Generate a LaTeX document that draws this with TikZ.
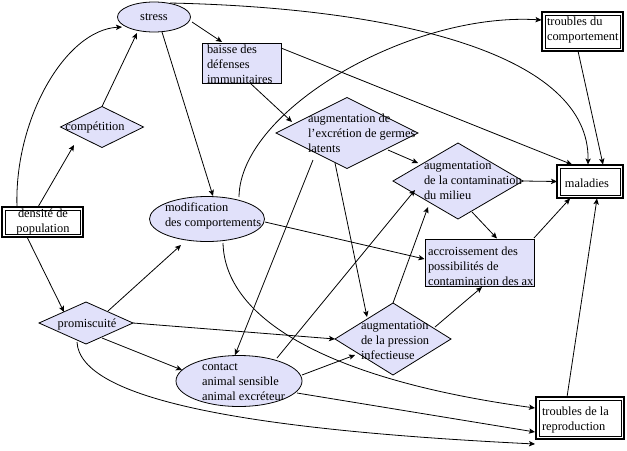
\documentclass[tikz,border=0pt]{standalone}
\usepackage{fontspec}
\setmainfont{Liberation Serif}
\usetikzlibrary{shapes.geometric,arrows.meta,calc}
\definecolor{fillc}{RGB}{225,225,250}
\begin{document}
\begin{tikzpicture}[x=0.75pt,y=-0.75pt,
  every node/.style={outer sep=0pt, inner sep=0pt},
  shp/.style={draw, fill=fillc, line width=0.6pt},
  ell/.style={shp, ellipse},
  dia/.style={shp, diamond},
  box/.style={shp, rectangle},
  dbox/.style={draw, line width=1.1pt, fill=white, rectangle},
  inner/.style={draw, line width=0.6pt},
  txt/.style={font=\fontsize{9.3pt}{11.25pt}\selectfont, align=left, anchor=west},
  ctxt/.style={font=\fontsize{9.3pt}{11.25pt}\selectfont, align=center},
  con/.style={line width=0.6pt},
  arr/.style={line width=0.6pt, -{Stealth[length=4.5pt,width=4pt,inset=1pt]}}]
\useasboundingbox (0,0) rectangle (627,450);
% shapes
\node[ell, minimum width=54.75pt, minimum height=22.5pt] (stress) at (154,17) {};
\node[box, minimum width=59.25pt, minimum height=30pt] (baisse) at (241.5,63) {};
\node[dia, minimum width=62.25pt, minimum height=30.75pt] (comp) at (102,127) {};
\node[dbox, minimum width=60.75pt, minimum height=22.5pt] (dens) at (42.5,222) {};
\node[ell, minimum width=86.25pt, minimum height=33.75pt] (modif) at (207,219) {};
\node[dia, minimum width=106.5pt, minimum height=53.25pt] (excr) at (347,133) {};
\node[dia, minimum width=97.5pt, minimum height=57pt] (contam) at (458,181) {};
\node[dbox, minimum width=49.5pt, minimum height=24.75pt] (mal) at (590,181.5) {};
\node[dbox, minimum width=60.75pt, minimum height=29.25pt] (tc) at (582.5,31.5) {};
\node[box, minimum width=81.75pt, minimum height=35.25pt] (accr) at (479.5,262.5) {};
\node[dia, minimum width=70.5pt, minimum height=31.5pt] (prom) at (86,323) {};
\node[ell, minimum width=94.5pt, minimum height=38.25pt] (contact) at (239,381) {};
\node[dia, minimum width=87pt, minimum height=54pt] (press) at (393,339) {};
\node[dbox, minimum width=66pt, minimum height=31.5pt] (repro) at (580,418) {};
\foreach \n in {dens,mal,tc,repro}
  \draw[inner] ($(\n.north west)+(3,3)$) rectangle ($(\n.south east)+(-3,-3)$);
% connectors
\draw[arr] ($(dens)+(-25.5,-15)$) .. controls (14,120) and (65,30) .. ($(stress)+(-32,10)$);
\draw[arr] ($(dens)+(-4.5,-15)$) -- ($(comp)+(-28,18)$);
\draw[arr] (comp.north) -- ($(stress)+(-17,16)$);
\draw[arr] ($(stress)+(38,5)$) -- ($(baisse)+(-19.5,-21)$);
\draw[arr] ($(stress)+(8,15)$) -- ($(modif)+(6,-23)$);
\draw[arr] ($(stress)+(16,-14)$) .. controls (400,8) and (590,55) .. ($(mal)+(-2,-17)$);
\draw[arr] ($(baisse)+(39.5,-15)$) -- ($(mal)+(-18,-17)$);
\draw[arr] ($(baisse)+(8.5,20)$) -- ($(excr)+(-55,-11)$);
\draw[arr] ($(modif)+(32,-22)$) .. controls (240,110) and (410,12) .. ($(tc)+(-41,-11.5)$);
\draw[arr] ($(excr)+(41,17)$) -- ($(contam)+(-40,-18)$);
\draw[arr] ($(excr)+(-34,27)$) -- ($(contact)+(-4,-26)$);
\draw[arr] ($(excr)+(-12,30)$) -- ($(press)+(-26,-22)$);
\draw[arr] (contam.east) -- (mal.west);
\draw[arr] ($(contam)+(14,31)$) -- ($(accr)+(17.5,-24)$);
\draw[arr] ($(modif)+(58,3)$) -- ($(accr)+(-55,-3.5)$);
\draw[arr] ($(modif)+(16,24)$) .. controls (225,320) and (330,380) .. ($(repro)+(-45,-10)$);
\draw[arr] ($(accr)+(54.5,-24.5)$) -- ($(mal)+(-20,17)$);
\draw[arr] ($(repro)+(-13,-21)$) -- ($(mal)+(7,17)$);
\draw[arr] ($(tc)+(-4.5,19.5)$) -- ($(mal)+(13,-17)$);
\draw[arr] ($(dens)+(-15.5,15)$) -- ($(prom)+(-22,-11)$);
\draw[arr] ($(prom)+(22,-12)$) -- ($(modif)+(-26,26)$);
\draw[arr] (prom.east) -- (press.west);
\draw[arr] ($(prom)+(16,15)$) -- ($(contact)+(-57,-11)$);
\draw[arr] ($(prom)+(-9,19)$) .. controls (80,400) and (250,430) .. ($(repro)+(-45,26)$);
\draw[arr] ($(contact)+(63,-6)$) -- ($(press)+(-38,16)$);
\draw[arr] ($(contact)+(38,-23)$) -- ($(contam)+(-43,9)$);
\draw[arr] ($(contact)+(58,12)$) -- ($(repro)+(-45,14)$);
\draw[arr] (press.north) -- ($(contam)+(-30,26)$);
\draw[arr] ($(press)+(42,-12)$) -- ($(accr)+(2.5,24.5)$);
% texts
\node[ctxt] (tstress) at (154,17) {stress};
\node[txt] (tbaisse) at (207,64) {baisse des\\défenses\\immunitaires};
\node[ctxt] (tcomp) at (95,128) {compétition};
\node[ctxt] (tdens) at (43,222.5) {densité de\\population};
\node[txt] (tmodif) at (165,216) {modification\\des comportements};
\node[txt] (texcr) at (308,133) {augmentation de\\l’excrétion de germes\\latents};
\node[txt] (tcontam) at (424,180) {augmentation\\de la contamination\\du milieu};
\node[ctxt] (tmal) at (587,183) {maladies};
\node[txt] (ttc) at (547,30.5) {troubles du\\comportement};
\node[txt] (taccr) at (428,266) {accroissement des\\possibilités de\\contamination des ax};
\node[ctxt] (tprom) at (87,325) {promiscuité};
\node[txt] (tcontact) at (202,382) {contact\\animal sensible\\animal excréteur};
\node[txt] (tpress) at (361,340) {augmentation\\de la pression\\infectieuse};
\node[txt] (trepro) at (542,420) {troubles de la\\reproduction};
\end{tikzpicture}
\end{document}
